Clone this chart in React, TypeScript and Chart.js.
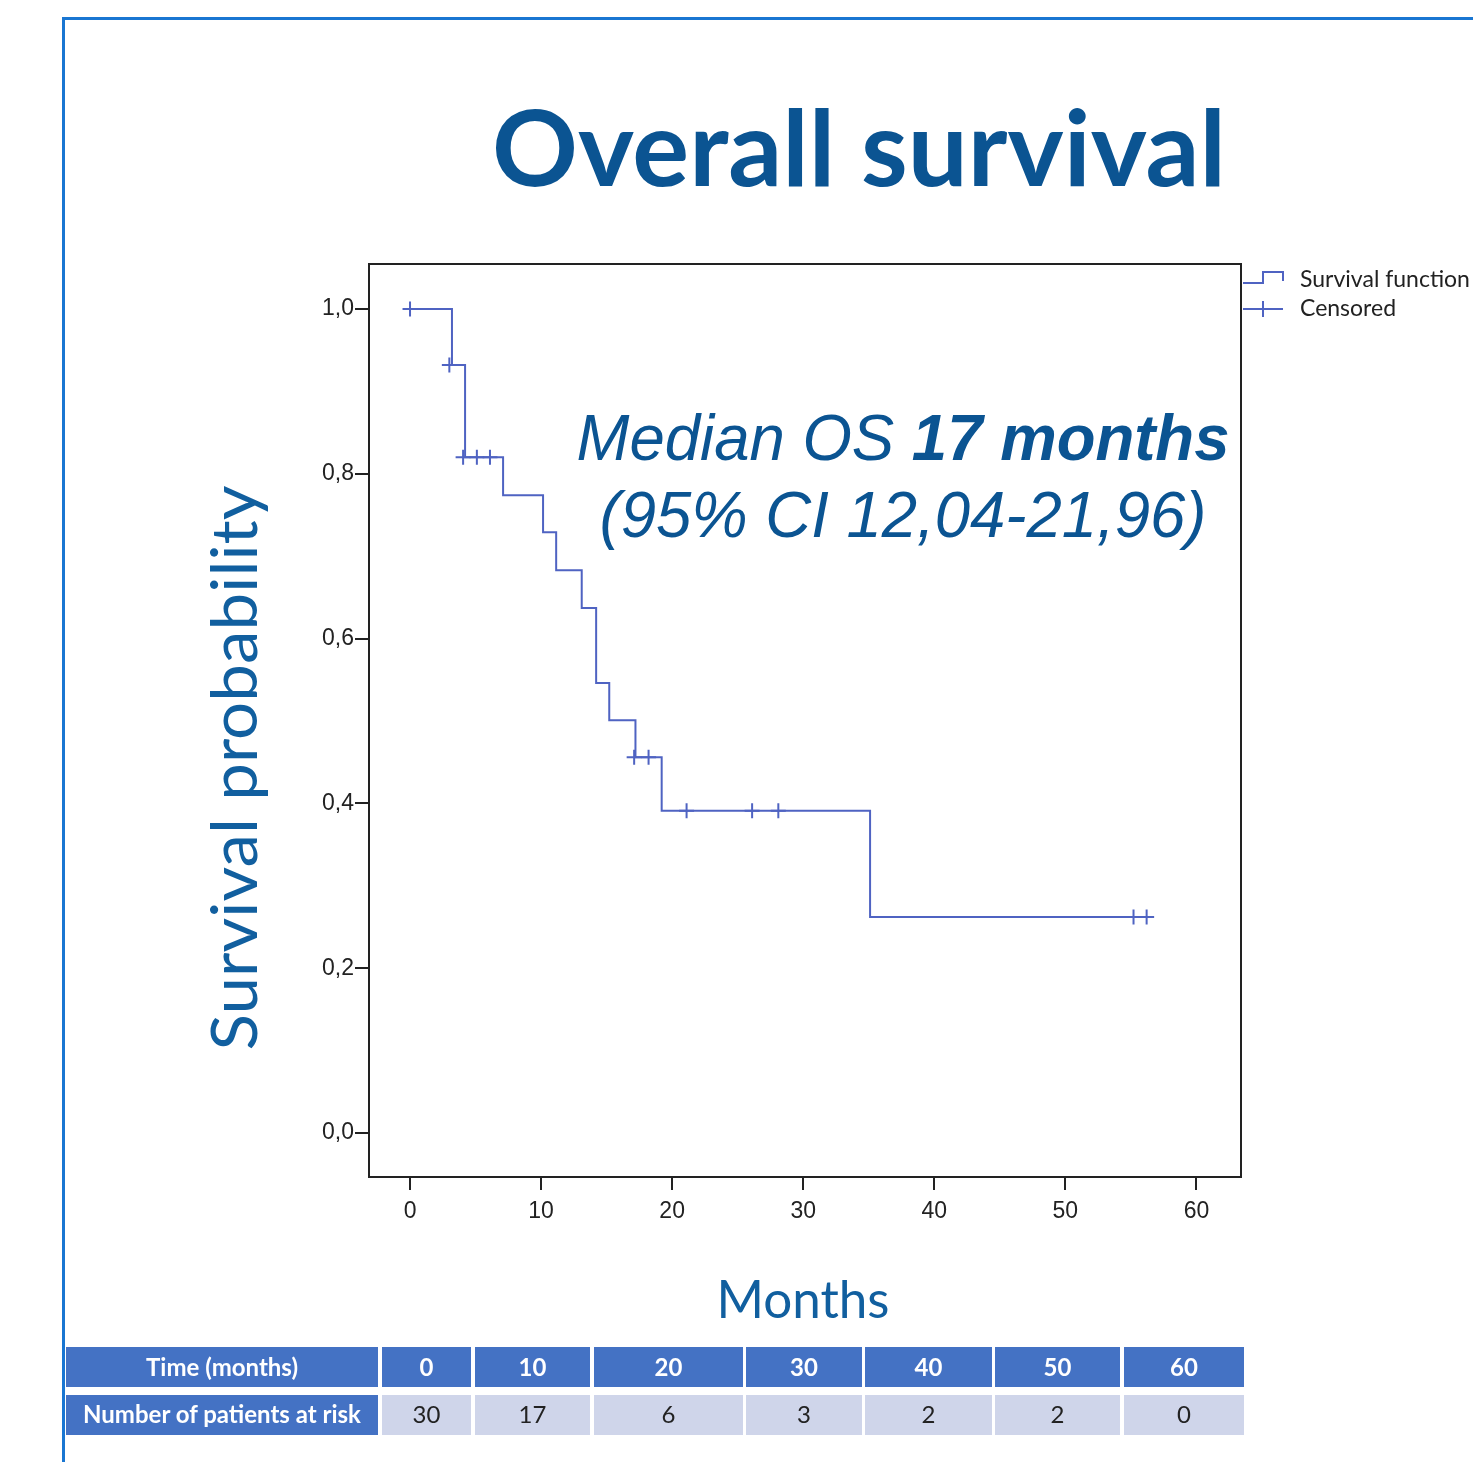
import React, { useEffect, useRef } from 'react';
import { Chart, registerables } from 'chart.js';

Chart.register(...registerables);

// ---- data ----
const eventTimes = [0, 3.2, 4.2, 7.1, 10.15, 11.15, 13.1, 14.2, 15.2, 17.2, 19.2, 35.1, 56.2];
const survival = [1.0, 0.932, 0.82, 0.774, 0.729, 0.683, 0.637, 0.546, 0.501, 0.456, 0.391, 0.262, 0.262];
const censorTimes = [0, 3.0, 4.05, 5.1, 6.1, 17.1, 18.2, 21.1, 26.1, 28.1, 55.2, 56.2];
const censorSurvival = [1.0, 0.932, 0.82, 0.82, 0.82, 0.456, 0.456, 0.391, 0.391, 0.391, 0.262, 0.262];
const xTicks = [0, 10, 20, 30, 40, 50, 60];
const yTicks = [0, 0.2, 0.4, 0.6, 0.8, 1.0];
const riskTimes = ['0', '10', '20', '30', '40', '50', '60'];
const atRisk = ['30', '17', '6', '3', '2', '2', '0'];
const legendLabels = ['Survival function', 'Censored'];

const X_MIN = -3.13;
const X_MAX = 63.4;
const Y_MIN = -0.0534;
const Y_MAX = 1.0546;

const LINE = '#4f63c2';
const TITLE_BLUE = '#0b5492';
const AXIS_BLUE = '#115f9f';
const TABLE_BLUE = '#4472c4';
const TABLE_LIGHT = '#cfd5ea';

const framePlugin = {
  id: 'plotFrame',
  beforeDatasetsDraw(chart: any) {
    const { ctx, chartArea: a } = chart;
    ctx.save();
    ctx.strokeStyle = '#222';
    ctx.lineWidth = 2;
    ctx.strokeRect(a.left, a.top, a.right - a.left, a.bottom - a.top);
    ctx.restore();
  },
};

const tableCols: [number, number][] = [
  [66, 378], [382, 471], [475, 590], [594, 743], [746, 862], [865, 992], [995, 1120], [1124, 1244],
];

export default function App() {
  const ref = useRef<HTMLCanvasElement>(null);

  useEffect(() => {
    const chart = new Chart(ref.current as HTMLCanvasElement, {
      type: 'scatter',
      data: {
        datasets: [
          {
            label: legendLabels[0],
            data: eventTimes.map((t, i) => ({ x: t, y: survival[i] })),
            showLine: true,
            stepped: 'before',
            borderColor: LINE,
            borderWidth: 2,
            pointRadius: 0,
            fill: false,
          } as any,
          {
            label: legendLabels[1],
            data: censorTimes.map((t, i) => ({ x: t, y: censorSurvival[i] })),
            showLine: false,
            pointStyle: 'cross',
            pointRadius: 7.5,
            pointBorderWidth: 2,
            pointBorderColor: LINE,
            pointBackgroundColor: LINE,
          } as any,
        ],
      },
      options: {
        animation: false,
        responsive: true,
        maintainAspectRatio: false,
        layout: { padding: { top: 24, right: 69, left: 0, bottom: 0 } },
        plugins: { legend: { display: false }, tooltip: { enabled: false } },
        scales: {
          x: {
            type: 'linear',
            min: X_MIN,
            max: X_MAX,
            afterBuildTicks: (axis: any) => {
              axis.ticks = xTicks.map((v) => ({ value: v }));
            },
            afterFit: (s: any) => {
              s.height = 73;
            },
            border: { display: false },
            grid: { display: true, drawOnChartArea: false, drawTicks: true, tickLength: 13, color: '#222', lineWidth: 2 },
            ticks: {
              font: { family: 'Liberation Sans', size: 23 },
              color: '#222',
              padding: 8,
              maxRotation: 0,
              autoSkip: false,
              callback: (v: any) => String(v),
            },
          },
          y: {
            type: 'linear',
            min: Y_MIN,
            max: Y_MAX,
            afterBuildTicks: (axis: any) => {
              axis.ticks = yTicks.map((v) => ({ value: v }));
            },
            afterFit: (s: any) => {
              s.width = 89;
            },
            border: { display: false },
            grid: { display: true, drawOnChartArea: false, drawTicks: true, tickLength: 14, color: '#222', lineWidth: 2 },
            ticks: {
              font: { family: 'Liberation Sans', size: 23 },
              color: '#222',
              padding: 1,
              autoSkip: false,
              callback: (v: any) => Number(v).toFixed(1).replace('.', ','),
            },
          },
        },
      },
      plugins: [framePlugin],
    } as any);
    return () => chart.destroy();
  }, []);

  return (
    <div style={{ position: 'absolute', left: 0, top: 0, width: 1473, height: 1462, overflow: 'hidden', background: '#fff' }}>
      <div style={{ position: 'absolute', left: 280, top: 240, width: 1030, height: 1010 }}>
        <canvas ref={ref} />
      </div>
      <svg width={1473} height={1462} style={{ position: 'absolute', left: 0, top: 0, pointerEvents: 'none' }}>
        <path d="M63.5 1462 V18.5 H1473" fill="none" stroke="#1976d2" strokeWidth={3} />
        <text x={859} y={186} textAnchor="middle" fontFamily="Lato" fontWeight={700} fontSize={106} fill={TITLE_BLUE} textLength={734} lengthAdjust="spacingAndGlyphs">Overall survival</text>
        <text x={903} y={460} textAnchor="middle" fontFamily="Liberation Sans" fontStyle="italic" fontSize={64} fill={TITLE_BLUE} textLength={653} lengthAdjust="spacingAndGlyphs">Median OS <tspan fontWeight={700}>17 months</tspan></text>
        <text x={903} y={537} textAnchor="middle" fontFamily="Liberation Sans" fontStyle="italic" fontSize={64} fill={TITLE_BLUE} textLength={607} lengthAdjust="spacingAndGlyphs">(95% CI 12,04-21,96)</text>
        <text x={257} y={768} transform="rotate(-90 257 768)" textAnchor="middle" fontFamily="Lato" fontSize={64} fill={AXIS_BLUE} textLength={565} lengthAdjust="spacingAndGlyphs">Survival probability</text>
        <text x={803} y={1318} textAnchor="middle" fontFamily="Lato" fontSize={53} fill={AXIS_BLUE} textLength={173} lengthAdjust="spacingAndGlyphs">Months</text>

        {/* legend */}
        <path d="M1243 283 H1263 V272 H1283 V281" fill="none" stroke={LINE} strokeWidth={2} />
        <path d="M1243 309 H1283 M1263 301 V317" fill="none" stroke={LINE} strokeWidth={2} />
        <text x={1300} y={287} fontFamily="Lato" fontSize={23} fill="#222">{legendLabels[0]}</text>
        <text x={1300} y={316} fontFamily="Lato" fontSize={23} fill="#222">{legendLabels[1]}</text>

        {/* risk table */}
        {tableCols.map(([x0, x1], i) => (
          <g key={'h' + i}>
            <rect x={x0} y={1347} width={x1 - x0} height={40} fill={TABLE_BLUE} />
            <text x={(x0 + x1) / 2} y={1376} textAnchor="middle" fontFamily="Lato" fontWeight={700} fontSize={24} fill="#fff">
              {i === 0 ? 'Time (months)' : riskTimes[i - 1]}
            </text>
            <rect x={x0} y={1395} width={x1 - x0} height={40} fill={i === 0 ? TABLE_BLUE : TABLE_LIGHT} />
            <text x={(x0 + x1) / 2} y={1423} textAnchor="middle" fontFamily="Lato" fontWeight={i === 0 ? 700 : 400} fontSize={24} fill={i === 0 ? '#fff' : '#222'}>
              {i === 0 ? 'Number of patients at risk' : atRisk[i - 1]}
            </text>
          </g>
        ))}
      </svg>
    </div>
  );
}
